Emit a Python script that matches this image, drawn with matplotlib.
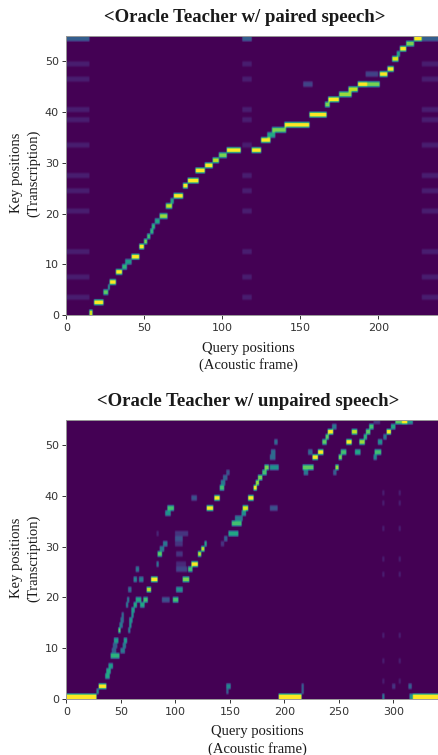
import matplotlib
matplotlib.use("Agg")
import matplotlib.pyplot as plt
import numpy as np

W, H = 439, 755
n_keys = 55

paired_frames = 239
unpaired_frames = 342

# (key row, first frame, last frame, attention)
paired_segments = [
    (0, 15, 17, .95), (2, 18, 24, 1), (4, 24, 27, .75), (5, 27, 28, .6), (6, 28, 32, 1),
    (8, 32, 36, 1), (9, 36, 39, .65), (10, 38, 42, .55), (11, 42, 47, 1), (13, 47, 50, 1),
    (14, 50, 52, .8), (15, 52, 54, .7), (16, 54, 56, .65), (17, 55, 57, .65), (18, 57, 60, .6),
    (19, 60, 65, .85), (21, 64, 68, .9), (22, 67, 69, .6), (23, 69, 75, 1), (25, 75, 78, 1),
    (26, 78, 85, 1), (28, 83, 89, 1), (29, 89, 94, 1), (30, 94, 98, .9), (31, 98, 103, .8),
    (32, 103, 112, 1), (32, 119, 125, 1), (34, 125, 131, 1), (35, 129, 134, .6), (36, 132, 141, .8),
    (37, 140, 156, 1), (39, 156, 167, 1), (41, 166, 169, .8), (42, 168, 175, 1), (43, 175, 183, .85),
    (44, 181, 187, .9), (45, 187, 193, 1), (45, 193, 201, .8), (45, 152, 158, .2), (47, 192, 200, .2),
    (47, 201, 206, 1), (48, 206, 210, 1), (50, 209, 213, .95), (51, 212, 214, .6), (52, 214, 218, 1),
    (53, 218, 223, .8), (54, 223, 228, 1), (54, 0, 15, .3), (54, 113, 119, .3), (54, 228, 239, .3),
]
paired_stripe_rows = [3, 7, 12, 20, 24, 27, 33, 38, 40, 46, 49]
paired_stripe_cols = [(0, 15), (113, 119), (228, 239)]

unpaired_segments = [
    (0, 0, 28, 1), (0, 195, 216, 1), (0, 318, 342, 1), (0, 315, 318, .5), (0, 290, 292, .4),
    (1, 28, 30, .5), (1, 147, 149, .3), (1, 216, 218, .3),
    (2, 30, 37, 1), (2, 147, 151, .45), (2, 216, 218, .3), (2, 314, 317, .3), (2, 299, 302, .15),
    (4, 36, 40, .6), (5, 37, 41, .6), (6, 39, 43, .55), (8, 41, 49, .65),
    (9, 42, 46, .3), (9, 50, 54, .4), (10, 43, 47, .3), (10, 52, 55, .4),
    (11, 44, 48, .55), (11, 53, 56, .55), (13, 48, 50, .75), (13, 57, 59, .4),
    (14, 49, 52, .4), (14, 58, 60, .5), (15, 50, 53, .35), (15, 58, 61, .5),
    (16, 51, 53, .35), (16, 60, 62, .5), (17, 60, 63, .55),
    (18, 55, 57, .4), (18, 62, 65, .6), (18, 68, 72, .6),
    (19, 56, 58, .4), (19, 64, 69, .6), (19, 71, 75, .7), (19, 88, 95, .25), (19, 98, 103, .7),
    (21, 57, 60, .35), (21, 74, 78, .9), (21, 101, 107, .5),
    (23, 62, 65, .45), (23, 67, 71, .4), (23, 78, 84, 1), (23, 107, 113, .8),
    (25, 64, 67, .4), (25, 101, 111, .2), (25, 112, 116, .7),
    (26, 83, 85, .4), (26, 101, 110, .12), (26, 115, 121, 1),
    (28, 84, 88, .75), (28, 121, 124, .9), (28, 101, 107, .15),
    (29, 86, 90, .4), (29, 124, 127, .9), (30, 89, 93, .4), (30, 127, 129, .6), (30, 100, 107, .15),
    (30, 142, 145, .15), (31, 100, 107, .25), (31, 145, 148, .3),
    (32, 83, 85, .1), (32, 100, 112, .15), (32, 149, 158, .6),
    (34, 152, 161, .7), (35, 155, 162, .4), (36, 91, 96, .5), (36, 161, 165, .5),
    (37, 93, 99, .7), (37, 129, 135, 1), (37, 162, 167, .95), (37, 187, 194, .25),
    (39, 136, 141, 1), (39, 167, 172, 1), (39, 115, 120, .25),
    (41, 141, 145, .7), (41, 172, 175, 1), (42, 142, 146, .4), (42, 174, 177, .85),
    (43, 144, 148, .3), (43, 176, 180, .8), (44, 147, 150, .25), (44, 180, 184, .7),
    (44, 218, 222, .4), (44, 245, 248, .3),
    (45, 182, 186, .8), (45, 187, 195, .5), (45, 217, 227, .75), (45, 247, 250, .85),
    (47, 187, 192, .35), (47, 226, 231, 1), (47, 250, 253, .8), (47, 282, 285, .45),
    (48, 188, 192, .35), (48, 222, 226, .35), (48, 231, 236, 1), (48, 252, 257, .7),
    (48, 265, 270, .6), (48, 283, 289, .7),
    (50, 191, 194, .35), (50, 235, 239, .75), (50, 257, 262, 1), (50, 269, 274, .85), (50, 286, 290, .5),
    (51, 238, 241, .75), (51, 273, 276, .65), (51, 291, 294, .4),
    (52, 240, 245, 1), (52, 262, 267, .9), (52, 275, 279, .75), (52, 294, 298, 1),
    (53, 244, 248, .4), (53, 278, 282, .7), (53, 298, 302, .6),
    (54, 302, 308, .75), (54, 308, 313, 1), (54, 313, 318, .5), (54, 282, 288, .15),
]
unpaired_stripe_rows = [3, 7, 12, 24, 27, 33, 38, 40]
unpaired_stripe_cols = [(290, 292), (305, 307)]

paired_xticks = [0, 50, 100, 150, 200]
unpaired_xticks = [0, 50, 100, 150, 200, 250, 300]
yticks = [0, 10, 20, 30, 40, 50]


def build_matrix(n_frames, segments, stripe_rows, stripe_cols, stripe_val):
    m = np.zeros((n_keys, n_frames))
    for r in stripe_rows:
        for c0, c1 in stripe_cols:
            m[r, c0:c1] = stripe_val
    for r, c0, c1, v in segments:
        m[r, c0:c1] = v
    return m


def smooth(m, kernel, axis):
    # the source is a blurry screenshot, soften cell edges a little
    k = np.array(kernel, dtype=float)
    k /= k.sum()
    pad = len(k) // 2
    widths = [(pad, pad) if a == axis else (0, 0) for a in range(2)]
    padded = np.pad(m, widths, mode="edge")
    return np.apply_along_axis(lambda v: np.convolve(v, k, mode="valid"), axis, padded)


def soften(m):
    fine = np.repeat(np.repeat(m, 6, axis=0), 3, axis=1)
    fine = smooth(fine, [1, 1, 1], 0)
    fine = smooth(fine, [1, 2, 1], 1)
    return fine


def px_axes(fig, left, top, right, bottom):
    return fig.add_axes([left / W, 1 - bottom / H, (right - left) / W, (bottom - top) / H])


def draw_panel(ax, m, xticks):
    ax.imshow(soften(m), origin="lower", aspect="auto", cmap="viridis", vmin=0, vmax=1,
              interpolation="bilinear", extent=[0, m.shape[1], 0, n_keys])
    ax.set_xticks(xticks)
    ax.set_yticks(yticks)
    ax.tick_params(labelsize=8, length=3, width=0.7, colors="#333333", pad=2.5)
    for s in ax.spines.values():
        s.set_color("#999999")
        s.set_linewidth(0.7)


def label(fig, x, y, s, **kw):
    fig.text(x / W, 1 - y / H, s, ha="center", va="center", family="Liberation Serif",
             color="#1a1a1a", **kw)


fig = plt.figure(figsize=(W / 100, H / 100), dpi=100)

ax1 = px_axes(fig, 66.5, 36, 439, 315)
draw_panel(ax1, build_matrix(paired_frames, paired_segments, paired_stripe_rows, paired_stripe_cols, .08),
           paired_xticks)
label(fig, 245, 17, "<Oracle Teacher w/ paired speech>", fontsize=13.5, fontweight="bold")
label(fig, 248, 348, "Query positions", fontsize=10.5)
label(fig, 248, 365, "(Acoustic frame)", fontsize=10.5)
label(fig, 17, 173, "Key positions", fontsize=10.5, rotation=90)
label(fig, 34, 173, "(Transcription)", fontsize=10.5, rotation=90)

ax2 = px_axes(fig, 66.5, 419.5, 439, 699)
draw_panel(ax2, build_matrix(unpaired_frames, unpaired_segments, unpaired_stripe_rows, unpaired_stripe_cols, .08),
           unpaired_xticks)
label(fig, 248, 402, "<Oracle Teacher w/ unpaired speech>", fontsize=13.5, fontweight="bold")
label(fig, 257, 731, "Query positions", fontsize=10.5)
label(fig, 257, 749, "(Acoustic frame)", fontsize=10.5)
label(fig, 17, 558, "Key positions", fontsize=10.5, rotation=90)
label(fig, 34, 558, "(Transcription)", fontsize=10.5, rotation=90)

plt.savefig("out.png", dpi=100)
